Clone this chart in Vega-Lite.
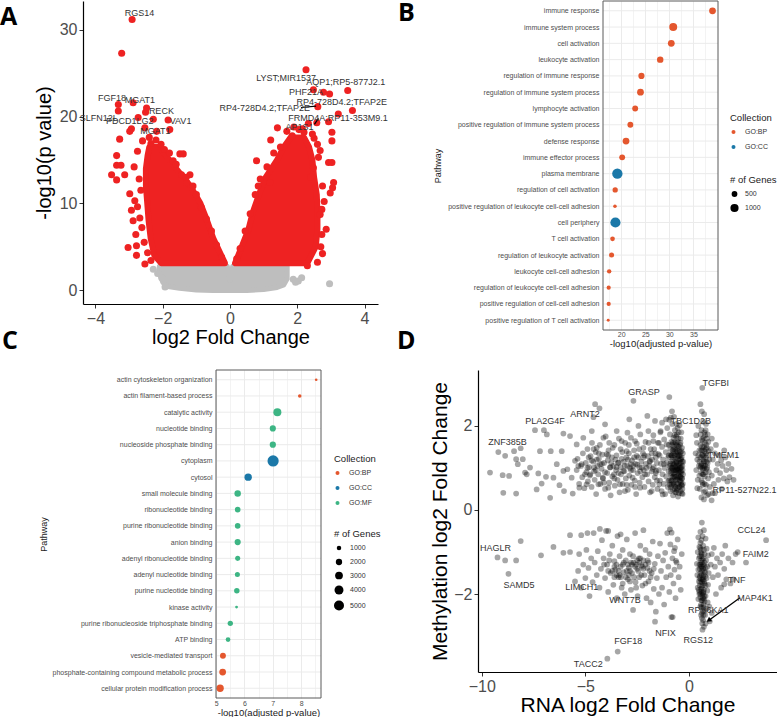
{
"$schema": "https://vega.github.io/schema/vega-lite/v6.json",
"padding": 0,
"autosize": {"type": "pad"},
"background": "white",
"columns": 2,
"spacing": {"row": 40, "column": 100},
"bounds": "flush",
"align": "each",
"resolve": {"scale": {"color": "independent", "size": "independent"}, "legend": {"color": "independent", "size": "independent"}},
"config": {"font": "Liberation Sans", "view": {"stroke": null}, "axis": {"labelFont": "Liberation Sans", "titleFont": "Liberation Sans", "labelFlush": false}, "legend": {"labelFont": "Liberation Sans", "titleFont": "Liberation Sans"}},
"concat": [
{
"width": 295, "height": 303,
"title": {"text": "A", "anchor": "start", "frame": "group", "dx": -83, "dy": 29, "offset": 0, "fontSize": 25, "font": "Open Sans", "fontWeight": "bold", "color": "black"},
"encoding": {
 "x": {"field": "x", "type": "quantitative", "scale": {"domain": [-4.37, 4.4], "nice": false, "zero": false}, "axis": {"values": [-4,-2,0,2,4], "grid": false, "title": "log2 Fold Change", "titleFontSize": 20, "titleFontWeight": "normal", "titleColor": "black", "titlePadding": 1, "labelFontSize": 16, "labelColor": "#4D4D4D", "labelPadding": 2, "tickSize": 4, "tickColor": "#333333", "domainColor": "black", "domainWidth": 1.2}},
 "y": {"field": "y", "type": "quantitative", "scale": {"domain": [-1.61, 33.33], "nice": false, "zero": false}, "axis": {"values": [0,10,20,30], "grid": false, "title": "-log10(p value)", "titleFontSize": 20, "titleFontWeight": "normal", "titleColor": "black", "titlePadding": 5, "labelFontSize": 16, "labelColor": "#4D4D4D", "labelPadding": 2, "tickSize": 4, "tickColor": "#333333", "domainColor": "black", "domainWidth": 1.2}}
},
"layer": [
 {"data": {"values": [{"x":-2.1,"y":2.0,"y2":2.75},{"x":-2.0,"y":0.9,"y2":2.75},{"x":-1.85,"y":0.4,"y2":2.75},{"x":-1.5,"y":0.2,"y2":2.75},{"x":-1.0,"y":0.0,"y2":2.75},{"x":-0.5,"y":-0.05,"y2":2.75},{"x":-0.08,"y":-0.05,"y2":2.75},{"x":0,"y":-0.05,"y2":1.1},{"x":0.08,"y":-0.05,"y2":2.75},{"x":0.5,"y":-0.05,"y2":2.75},{"x":1.0,"y":0.05,"y2":2.75},{"x":1.4,"y":0.3,"y2":2.75},{"x":1.6,"y":0.6,"y2":2.75},{"x":1.7,"y":1.3,"y2":2.75}]},
  "mark": {"type": "area", "color": "#BEBEBE", "stroke": "#BEBEBE", "strokeWidth": 5, "strokeJoin": "round"},
  "encoding": {"y2": {"field": "y2"}}},
 {"data": {"values": [{"x":2.96,"y":0.73},{"x":1.88,"y":1.23},{"x":2.03,"y":1.04},{"x":2.13,"y":1.42},{"x":-2.28,"y":2.4},{"x":-2.03,"y":1.42},{"x":-1.93,"y":0.35},{"x":1.95,"y":0.9},{"x":-2.15,"y":1.9}]},
  "mark": {"type": "circle", "color": "#BEBEBE", "opacity": 1, "size": 50}},
 {"data": {"values": [
  {"side":"L","y":3.1,"x":-2.05,"x2":-0.15},{"side":"L","y":4,"x":-2.25,"x2":-0.26},{"side":"L","y":6,"x":-2.36,"x2":-0.5},{"side":"L","y":8,"x":-2.42,"x2":-0.68},{"side":"L","y":10,"x":-2.46,"x2":-0.88},{"side":"L","y":12,"x":-2.5,"x2":-1.18},{"side":"L","y":14,"x":-2.5,"x2":-1.6},{"side":"L","y":15.5,"x":-2.45,"x2":-1.9},{"side":"L","y":16.5,"x":-2.4,"x2":-2.12},
  {"side":"R","y":3.1,"x":0.15,"x2":2.3},{"side":"R","y":5,"x":0.35,"x2":2.55},{"side":"R","y":7,"x":0.55,"x2":2.6},{"side":"R","y":9,"x":0.68,"x2":2.6},{"side":"R","y":11,"x":0.86,"x2":2.58},{"side":"R","y":13,"x":1.06,"x2":2.5},{"side":"R","y":15,"x":1.4,"x2":2.45},{"side":"R","y":16.5,"x":1.6,"x2":2.35},{"side":"R","y":17.6,"x":1.8,"x2":2.2}]},
  "mark": {"type": "area", "orient": "horizontal", "color": "#EE2222", "stroke": "#EE2222", "strokeWidth": 6, "strokeJoin": "round"},
  "encoding": {"x2": {"field": "x2"}, "detail": {"field": "side"}}},
 {"data": {"values": [
  {"x":-2.91,"y":31.2},{"x":-3.22,"y":27.3},{"x":-3.32,"y":21.4},{"x":-3.32,"y":20.65},{"x":-2.88,"y":21.6},{"x":-2.48,"y":21.0},{"x":-2.51,"y":20.5},{"x":-2.73,"y":19.9},{"x":-2.28,"y":19.7},{"x":-1.84,"y":19.6},{"x":-2.93,"y":18.6},{"x":-2.98,"y":18.3},{"x":-2.53,"y":18.7},{"x":-2.18,"y":18.3},{"x":-1.79,"y":18.5},{"x":-3.28,"y":17.4},{"x":-3.37,"y":15.5},{"x":-3.37,"y":14.4},{"x":-3.24,"y":14.4},{"x":-3.52,"y":13.3},{"x":-3.37,"y":12.7},{"x":-3.13,"y":13.3},{"x":-2.98,"y":11.1},{"x":-2.93,"y":9.2},{"x":-3.03,"y":4.9},{"x":-2.78,"y":5.1},{"x":-2.78,"y":4.0},{"x":-2.53,"y":3.0},{"x":-2.88,"y":8.0},{"x":-2.8,"y":6.4},{"x":-2.68,"y":8.3},{"x":-2.83,"y":10.3},{"x":-1.49,"y":15.7},{"x":-1.39,"y":15.7},{"x":-1.69,"y":14.9},{"x":-1.44,"y":13.3},{"x":-1.29,"y":12.4},{"x":-1.19,"y":13.3},
  {"x":-2.6,"y":17.2},{"x":-2.4,"y":17.6},{"x":-2.2,"y":17.3},{"x":-2.35,"y":16.9},{"x":-2.05,"y":16.8},{"x":-1.95,"y":16.2},{"x":-1.8,"y":15.8},{"x":-2.75,"y":16.0},{"x":-2.85,"y":14.2},{"x":-2.7,"y":12.8},{"x":-2.65,"y":11.5},{"x":-2.75,"y":9.6},{"x":-2.62,"y":7.2},{"x":-2.55,"y":5.5},{"x":-2.45,"y":4.3},{"x":-2.35,"y":3.4},{"x":-1.1,"y":12.0},{"x":-1.0,"y":11.0},{"x":-0.85,"y":9.5},{"x":-0.7,"y":8.2},{"x":-0.55,"y":6.8},{"x":-0.4,"y":5.2},{"x":-0.25,"y":3.8},{"x":-1.6,"y":14.5},{"x":-1.3,"y":13.0},
  {"x":2.26,"y":25.4},{"x":2.48,"y":23.1},{"x":2.78,"y":22.8},{"x":2.96,"y":22.6},{"x":3.5,"y":23.0},{"x":2.61,"y":21.15},{"x":3.64,"y":20.7},{"x":3.22,"y":20.3},{"x":2.93,"y":19.4},{"x":2.33,"y":19.2},{"x":2.58,"y":19.3},{"x":1.41,"y":18.7},{"x":1.69,"y":18.3},{"x":3.03,"y":18.2},{"x":3.03,"y":17.2},{"x":2.93,"y":14.7},{"x":3.03,"y":14.7},{"x":3.08,"y":12.4},{"x":2.98,"y":11.2},{"x":3.05,"y":11.8},{"x":2.73,"y":9.3},{"x":2.68,"y":8.7},{"x":2.86,"y":7.0},{"x":2.73,"y":6.4},{"x":2.7,"y":5.0},{"x":2.3,"y":2.8},{"x":1.21,"y":17.3},{"x":0.79,"y":14.9},{"x":1.19,"y":12.4},{"x":0.84,"y":12.0},{"x":2.48,"y":14.1},{"x":2.63,"y":15.3},{"x":2.68,"y":16.1},{"x":2.4,"y":13.0},
  {"x":1.9,"y":18.8},{"x":2.05,"y":18.5},{"x":2.2,"y":18.2},{"x":1.85,"y":17.8},{"x":2.5,"y":17.5},{"x":2.6,"y":16.8},{"x":1.5,"y":16.5},{"x":1.3,"y":15.8},{"x":1.1,"y":14.2},{"x":0.9,"y":12.8},{"x":0.75,"y":11.0},{"x":0.6,"y":8.8},{"x":0.45,"y":6.8},{"x":0.3,"y":4.8},{"x":0.2,"y":3.6},{"x":2.75,"y":12.0},{"x":2.8,"y":10.2},{"x":2.75,"y":4.2},{"x":2.6,"y":3.2},{"x":2.45,"y":18.0},{"x":2.15,"y":18.6}]},
  "mark": {"type": "circle", "color": "#EE2222", "opacity": 1, "size": 50}},
 {"data": {"values": [{"x":2.11,"y":21.05,"x2":2.56,"y2":21.2},{"x":2.51,"y":19.11,"x2":2.63,"y2":19.8}]},
  "mark": {"type": "rule", "color": "black", "strokeWidth": 1.2},
  "encoding": {"x2": {"field": "x2"}, "y2": {"field": "y2"}}},
 {"data": {"values": [
  {"x":-2.69,"y":31.95,"label":"RGS14"},{"x":-3.51,"y":22.18,"label":"FGF18"},{"x":-2.68,"y":21.9,"label":"MGAT1"},{"x":-2.04,"y":20.65,"label":"RECK"},{"x":-3.9,"y":19.84,"label":"SLFN12L"},{"x":-2.98,"y":19.5,"label":"PDCD1LG2"},{"x":-1.47,"y":19.5,"label":"VAV1"},{"x":-2.22,"y":18.34,"label":"MGAT1"},
  {"x":1.67,"y":24.49,"label":"LYST;MIR1537"},{"x":3.44,"y":24.03,"label":"AQP1;RP5-877J2.1"},{"x":2.26,"y":22.87,"label":"PHF21A"},{"x":3.32,"y":21.72,"label":"RP4-728D4.2;TFAP2E"},{"x":1.03,"y":21.03,"label":"RP4-728D4.2;TFAP2E"},{"x":3.21,"y":19.87,"label":"FRMD4A;RP11-353M9.1"},{"x":2.07,"y":18.8,"label":"AP1S1"}]},
  "mark": {"type": "text", "fontSize": 9, "color": "#333333", "align": "center", "baseline": "middle"},
  "encoding": {"text": {"field": "label"}}}
]
},
{
"width": 240, "height": 329,
"title": {"text": "B", "anchor": "start", "frame": "group", "dx": -80, "dy": 25, "offset": 0, "fontSize": 25, "font": "Open Sans", "fontWeight": "bold", "color": "black"},
"data": {"values": [
 {"pathway":"immune response","collection":"GO:BP","p":38.96,"genes":690},
 {"pathway":"immune system process","collection":"GO:BP","p":30.8,"genes":950},
 {"pathway":"cell activation","collection":"GO:BP","p":30.4,"genes":690},
 {"pathway":"leukocyte activation","collection":"GO:BP","p":28.1,"genes":620},
 {"pathway":"regulation of immune response","collection":"GO:BP","p":24.2,"genes":570},
 {"pathway":"regulation of immune system process","collection":"GO:BP","p":24.0,"genes":690},
 {"pathway":"lymphocyte activation","collection":"GO:BP","p":22.9,"genes":520},
 {"pathway":"positive regulation of immune system process","collection":"GO:BP","p":21.9,"genes":520},
 {"pathway":"defense response","collection":"GO:BP","p":21.0,"genes":690},
 {"pathway":"immune effector process","collection":"GO:BP","p":20.2,"genes":520},
 {"pathway":"plasma membrane","collection":"GO:CC","p":19.2,"genes":1600},
 {"pathway":"regulation of cell activation","collection":"GO:BP","p":18.75,"genes":420},
 {"pathway":"positive regulation of leukocyte cell-cell adhesion","collection":"GO:BP","p":18.7,"genes":190},
 {"pathway":"cell periphery","collection":"GO:CC","p":18.8,"genes":1550},
 {"pathway":"T cell activation","collection":"GO:BP","p":18.2,"genes":330},
 {"pathway":"regulation of leukocyte activation","collection":"GO:BP","p":18.0,"genes":380},
 {"pathway":"leukocyte cell-cell adhesion","collection":"GO:BP","p":17.5,"genes":290},
 {"pathway":"regulation of leukocyte cell-cell adhesion","collection":"GO:BP","p":17.4,"genes":260},
 {"pathway":"positive regulation of cell-cell adhesion","collection":"GO:BP","p":17.4,"genes":260},
 {"pathway":"positive regulation of T cell activation","collection":"GO:BP","p":17.3,"genes":130}]},
"layer": [
 {"mark": {"type": "rule", "color": "#EBEBEB", "strokeWidth": 1},
  "encoding": {
   "y": {"field": "pathway", "type": "nominal", "sort": null, "scale": {"type": "point", "padding": 0.6}, "axis": {"offset": -125, "title": "Pathway", "titleFontSize": 9, "titleFontWeight": "normal", "titleColor": "#1a1a1a", "titlePadding": 5, "labelFontSize": 7, "labelColor": "#4D4D4D", "labelPadding": 4, "labelLimit": 0, "ticks": false, "domain": false, "grid": false}},
   "x": {"datum": 16.22, "type": "quantitative", "scale": {"domain": [-9.74, 40.1], "nice": false, "zero": false}, "axis": {"values": [17.5,20,22.5,25,27.5,30,32.5,35,37.5], "labelExpr": "datum.value % 5 === 0 ? datum.label : ''", "title": "-log10(adjusted p-value)", "titleX": 182.5, "titleFontSize": 9.5, "titleFontWeight": "normal", "titleColor": "#1a1a1a", "titlePadding": 1, "labelFontSize": 7, "labelColor": "#4D4D4D", "labelPadding": 0, "ticks": false, "domain": false, "grid": true, "gridColor": "#EBEBEB", "gridWidth": {"condition": {"test": "datum.value % 5 === 0", "value": 1}, "value": 0.6}}},
   "x2": {"datum": 40.1}}},
 {"mark": {"type": "circle", "opacity": 1},
  "encoding": {
   "y": {"field": "pathway", "type": "nominal", "sort": null, "scale": {"type": "point", "padding": 0.6}, "axis": {"offset": -125, "title": "Pathway", "titleFontSize": 9, "titleFontWeight": "normal", "titleColor": "#1a1a1a", "titlePadding": 5, "labelFontSize": 7, "labelColor": "#4D4D4D", "labelPadding": 4, "labelLimit": 0, "ticks": false, "domain": false, "grid": false}},
   "x": {"field": "p", "type": "quantitative", "scale": {"domain": [-9.74, 40.1], "nice": false, "zero": false}, "axis": {"values": [17.5,20,22.5,25,27.5,30,32.5,35,37.5], "labelExpr": "datum.value % 5 === 0 ? datum.label : ''", "title": "-log10(adjusted p-value)", "titleX": 182.5, "titleFontSize": 9.5, "titleFontWeight": "normal", "titleColor": "#1a1a1a", "titlePadding": 1, "labelFontSize": 7, "labelColor": "#4D4D4D", "labelPadding": 0, "ticks": false, "domain": false, "grid": true, "gridColor": "#EBEBEB", "gridWidth": {"condition": {"test": "datum.value % 5 === 0", "value": 1}, "value": 0.6}}},
   "color": {"field": "collection", "type": "nominal", "scale": {"domain": ["GO:BP", "GO:CC"], "range": ["#E4572E", "#1B78A8"]}, "legend": {"title": "Collection", "orient": "none", "legendX": 252, "legendY": 112, "titleFontSize": 9.5, "titleFontWeight": "normal", "titleColor": "#1a1a1a", "titlePadding": 6, "labelFontSize": 7, "labelColor": "#333333", "symbolSize": 16, "symbolType": "circle", "rowPadding": 7, "labelOffset": 8}},
   "size": {"field": "genes", "type": "quantitative", "scale": {"domain": [0, 1600], "range": [0, 107]}, "legend": {"title": "# of Genes", "orient": "none", "legendX": 252, "legendY": 174, "values": [500, 1000], "format": "d", "titleFontSize": 9.5, "titleFontWeight": "normal", "titleColor": "#1a1a1a", "titlePadding": 6, "labelFontSize": 7, "labelColor": "#333333", "symbolFillColor": "black", "symbolStrokeWidth": 0, "symbolType": "circle", "symbolOpacity": 1, "rowPadding": 6, "labelOffset": 6}}}},
 {"data": {"values": [{}]},
  "mark": {"type": "rect", "filled": false, "stroke": "#5a5a5a", "strokeWidth": 1},
  "encoding": {
   "x": {"datum": 16.22, "type": "quantitative", "scale": {"domain": [-9.74, 40.1], "nice": false, "zero": false}, "axis": {"values": [17.5,20,22.5,25,27.5,30,32.5,35,37.5], "labelExpr": "datum.value % 5 === 0 ? datum.label : ''", "title": "-log10(adjusted p-value)", "titleX": 182.5, "titleFontSize": 9.5, "titleFontWeight": "normal", "titleColor": "#1a1a1a", "titlePadding": 1, "labelFontSize": 7, "labelColor": "#4D4D4D", "labelPadding": 0, "ticks": false, "domain": false, "grid": true, "gridColor": "#EBEBEB", "gridWidth": {"condition": {"test": "datum.value % 5 === 0", "value": 1}, "value": 0.6}}},
   "x2": {"datum": 40.1}}}
]
},
{
"width": 238, "height": 328,
"title": {"text": "C", "anchor": "start", "frame": "group", "dx": -81, "dy": -16, "offset": 0, "fontSize": 25, "font": "Open Sans", "fontWeight": "bold", "color": "black"},
"data": {"values": [
 {"pathway":"actin cytoskeleton organization","collection":"GO:BP","p":8.53,"genes":350},
 {"pathway":"actin filament-based process","collection":"GO:BP","p":7.95,"genes":630},
 {"pathway":"catalytic activity","collection":"GO:MF","p":7.16,"genes":3200},
 {"pathway":"nucleotide binding","collection":"GO:MF","p":7.0,"genes":1900},
 {"pathway":"nucleoside phosphate binding","collection":"GO:MF","p":7.0,"genes":1950},
 {"pathway":"cytoplasm","collection":"GO:CC","p":7.01,"genes":6300},
 {"pathway":"cytosol","collection":"GO:CC","p":6.13,"genes":2700},
 {"pathway":"small molecule binding","collection":"GO:MF","p":5.76,"genes":2100},
 {"pathway":"ribonucleotide binding","collection":"GO:MF","p":5.76,"genes":1560},
 {"pathway":"purine ribonucleotide binding","collection":"GO:MF","p":5.76,"genes":1550},
 {"pathway":"anion binding","collection":"GO:MF","p":5.76,"genes":1900},
 {"pathway":"adenyl ribonucleotide binding","collection":"GO:MF","p":5.76,"genes":1270},
 {"pathway":"adenyl nucleotide binding","collection":"GO:MF","p":5.75,"genes":1280},
 {"pathway":"purine nucleotide binding","collection":"GO:MF","p":5.73,"genes":1500},
 {"pathway":"kinase activity","collection":"GO:MF","p":5.72,"genes":400},
 {"pathway":"purine ribonucleoside triphosphate binding","collection":"GO:MF","p":5.5,"genes":1400},
 {"pathway":"ATP binding","collection":"GO:MF","p":5.42,"genes":1100},
 {"pathway":"vesicle-mediated transport","collection":"GO:BP","p":5.24,"genes":1750},
 {"pathway":"phosphate-containing compound metabolic process","collection":"GO:BP","p":5.23,"genes":2300},
 {"pathway":"cellular protein modification process","collection":"GO:BP","p":5.14,"genes":2700}]},
"layer": [
 {"mark": {"type": "rule", "color": "#EBEBEB", "strokeWidth": 1},
  "encoding": {
   "y": {"field": "pathway", "type": "nominal", "sort": null, "scale": {"type": "point", "padding": 0.6}, "axis": {"offset": -133, "title": "Pathway", "titleFontSize": 9, "titleFontWeight": "normal", "titleColor": "#1a1a1a", "titlePadding": 4, "labelFontSize": 7, "labelColor": "#4D4D4D", "labelPadding": 4, "labelLimit": 0, "ticks": false, "domain": false, "grid": false}},
   "x": {"datum": 4.995, "type": "quantitative", "scale": {"domain": [0.302, 8.7], "nice": false, "zero": false}, "axis": {"values": [5,5.5,6,6.5,7,7.5,8,8.5], "labelExpr": "datum.value % 1 === 0 ? datum.label : ''", "title": "-log10(adjusted p-value)", "titleX": 185.5, "titleFontSize": 9.5, "titleFontWeight": "normal", "titleColor": "#1a1a1a", "titlePadding": 1, "labelFontSize": 7, "labelColor": "#4D4D4D", "labelPadding": 1, "ticks": false, "domain": false, "grid": true, "gridColor": "#EBEBEB", "gridWidth": {"condition": {"test": "datum.value % 1 === 0", "value": 1}, "value": 0.6}}},
   "x2": {"datum": 8.7}}},
 {"mark": {"type": "circle", "opacity": 1},
  "encoding": {
   "y": {"field": "pathway", "type": "nominal", "sort": null, "scale": {"type": "point", "padding": 0.6}, "axis": {"offset": -133, "title": "Pathway", "titleFontSize": 9, "titleFontWeight": "normal", "titleColor": "#1a1a1a", "titlePadding": 4, "labelFontSize": 7, "labelColor": "#4D4D4D", "labelPadding": 4, "labelLimit": 0, "ticks": false, "domain": false, "grid": false}},
   "x": {"field": "p", "type": "quantitative", "scale": {"domain": [0.302, 8.7], "nice": false, "zero": false}, "axis": {"values": [5,5.5,6,6.5,7,7.5,8,8.5], "labelExpr": "datum.value % 1 === 0 ? datum.label : ''", "title": "-log10(adjusted p-value)", "titleX": 185.5, "titleFontSize": 9.5, "titleFontWeight": "normal", "titleColor": "#1a1a1a", "titlePadding": 1, "labelFontSize": 7, "labelColor": "#4D4D4D", "labelPadding": 1, "ticks": false, "domain": false, "grid": true, "gridColor": "#EBEBEB", "gridWidth": {"condition": {"test": "datum.value % 1 === 0", "value": 1}, "value": 0.6}}},
   "color": {"field": "collection", "type": "nominal", "scale": {"domain": ["GO:BP", "GO:CC", "GO:MF"], "range": ["#E4572E", "#1B78A8", "#3DB584"]}, "legend": {"title": "Collection", "orient": "none", "legendX": 251, "legendY": 84, "titleFontSize": 9.5, "titleFontWeight": "normal", "titleColor": "#1a1a1a", "titlePadding": 6, "labelFontSize": 7, "labelColor": "#333333", "symbolSize": 16, "symbolType": "circle", "rowPadding": 7, "labelOffset": 8}},
   "size": {"field": "genes", "type": "quantitative", "scale": {"domain": [0, 5000], "range": [0, 100]}, "legend": {"title": "# of Genes", "orient": "none", "legendX": 251, "legendY": 159, "values": [1000, 2000, 3000, 4000, 5000], "format": "d", "titleFontSize": 9.5, "titleFontWeight": "normal", "titleColor": "#1a1a1a", "titlePadding": 6, "labelFontSize": 7, "labelColor": "#333333", "symbolFillColor": "black", "symbolStrokeWidth": 0, "symbolType": "circle", "symbolOpacity": 1, "rowPadding": 6, "labelOffset": 6}}}},
 {"data": {"values": [{}]},
  "mark": {"type": "rect", "filled": false, "stroke": "#5a5a5a", "strokeWidth": 1},
  "encoding": {
   "x": {"datum": 4.995, "type": "quantitative", "scale": {"domain": [0.302, 8.7], "nice": false, "zero": false}, "axis": {"values": [5,5.5,6,6.5,7,7.5,8,8.5], "labelExpr": "datum.value % 1 === 0 ? datum.label : ''", "title": "-log10(adjusted p-value)", "titleX": 185.5, "titleFontSize": 9.5, "titleFontWeight": "normal", "titleColor": "#1a1a1a", "titlePadding": 1, "labelFontSize": 7, "labelColor": "#4D4D4D", "labelPadding": 1, "ticks": false, "domain": false, "grid": true, "gridColor": "#EBEBEB", "gridWidth": {"condition": {"test": "datum.value % 1 === 0", "value": 1}, "value": 0.6}}},
   "x2": {"datum": 8.7}}}
]
},
{
"width": 299, "height": 302,
"title": {"text": "D", "anchor": "start", "frame": "group", "dx": -81, "dy": -16, "offset": 0, "fontSize": 25, "font": "Open Sans", "fontWeight": "bold", "color": "black"},
"encoding": {
 "x": {"field": "x", "type": "quantitative", "scale": {"domain": [-10.18, 4.245], "nice": false, "zero": false}, "axis": {"values": [-10,-5,0], "grid": false, "title": "RNA log2 Fold Change", "titleFontSize": 21, "titleFontWeight": "normal", "titleColor": "black", "titlePadding": 0, "labelFontSize": 16, "labelColor": "#4D4D4D", "labelPadding": 2, "tickSize": 4, "tickColor": "#333333", "domainColor": "black", "domainWidth": 1.2}},
 "y": {"field": "y", "type": "quantitative", "scale": {"domain": [-3.857, 3.333], "nice": false, "zero": false}, "axis": {"values": [-2,0,2], "grid": false, "title": "Methylation log2 Fold Change", "titleFontSize": 21, "titleFontWeight": "normal", "titleColor": "black", "titlePadding": 3, "labelFontSize": 16, "labelColor": "#4D4D4D", "labelPadding": 2, "tickSize": 4, "tickColor": "#333333", "domainColor": "black", "domainWidth": 1.2}}
},
"layer": [
 {"mark": {"type": "rule", "color": "#B0B0B0", "strokeDash": [6, 4], "strokeWidth": 1.2}, "encoding": {"x": {"datum": 0}, "y": null}},
 {"mark": {"type": "rule", "color": "#B0B0B0", "strokeDash": [6, 4], "strokeWidth": 1.2}, "encoding": {"y": {"datum": 0}, "x": null}},
 {"data": {"values": [
{"x":-9.6,"y":0.89},{"x":-9.2,"y":1.38},{"x":-8.87,"y":1.29},{"x":-8.96,"y":0.41},{"x":-8.99,"y":0.83},{"x":-8.68,"y":0.81},{"x":-8.44,"y":1.4},{"x":-8.12,"y":1.47},{"x":-8.34,"y":0.39},{"x":-8.34,"y":1.21},{"x":-8.26,"y":1.09},{"x":-8.02,"y":1.21},{"x":-7.91,"y":0.89},{"x":-7.67,"y":1.01},{"x":-7.83,"y":0.85},{"x":-7.43,"y":1.9},{"x":-7.27,"y":0.87},{"x":-7.19,"y":1.4},{"x":-7.35,"y":0.49},{"x":-7.11,"y":0.63},{"x":-7.0,"y":1.9},{"x":-6.86,"y":1.8},{"x":-6.9,"y":0.79},{"x":-6.7,"y":0.29},{"x":-6.67,"y":1.4},{"x":-6.54,"y":0.77},{"x":-6.38,"y":1.09},{"x":-6.25,"y":0.59},{"x":-6.06,"y":1.82},{"x":-6.14,"y":1.4},{"x":-6.06,"y":0.93},{"x":-6.03,"y":0.45},{"x":-5.87,"y":0.97},{"x":-5.74,"y":1.76},{"x":-5.66,"y":0.77},{"x":-5.61,"y":0.39},{"x":-5.5,"y":1.17},{"x":-5.42,"y":1.56},{"x":-5.34,"y":1.05},{"x":-5.29,"y":0.53},{"x":-5.18,"y":1.09},{"x":-5.1,"y":1.72},{"x":-5.02,"y":0.85},{"x":-4.94,"y":0.61},{"x":-4.84,"y":1.25},{"x":-4.77,"y":0.85},{"x":-4.69,"y":1.88},{"x":-4.61,"y":2.21},{"x":-4.53,"y":2.52},{"x":-4.32,"y":2.42},{"x":-4.58,"y":1.01},{"x":-4.45,"y":1.48},{"x":-4.37,"y":0.61},{"x":-4.29,"y":1.09},{"x":-4.16,"y":0.77},{"x":-4.13,"y":1.72},{"x":-4.05,"y":2.04},{"x":-3.97,"y":1.33},{"x":-3.89,"y":0.53},{"x":-3.81,"y":1.01},{"x":-3.68,"y":1.48},{"x":-3.62,"y":0.85},{"x":-3.49,"y":1.88},{"x":-3.41,"y":1.13},{"x":-3.33,"y":0.61},{"x":-3.25,"y":1.64},{"x":-3.17,"y":0.93},{"x":-3.09,"y":0.45},{"x":-3.01,"y":1.4},{"x":-2.97,"y":1.84},{"x":-2.88,"y":2.16},{"x":-2.81,"y":1.09},{"x":-2.72,"y":0.77},{"x":-2.68,"y":2.6},{"x":-2.6,"y":1.64},{"x":-2.52,"y":1.29},{"x":-2.44,"y":2.0},{"x":-2.36,"y":0.53},{"x":-2.28,"y":1.01},{"x":-2.2,"y":1.48},{"x":-2.12,"y":0.85},{"x":-2.01,"y":2.24},{"x":-1.96,"y":1.88},{"x":-1.88,"y":1.17},{"x":-1.8,"y":0.45},{"x":-1.72,"y":1.64},{"x":-1.64,"y":2.12},{"x":-1.59,"y":0.93},{"x":-1.48,"y":1.33},{"x":-1.43,"y":0.61},{"x":-1.37,"y":1.88},{"x":-1.27,"y":0.37},{"x":-1.21,"y":1.09},{"x":-1.11,"y":2.16},{"x":-1.08,"y":1.56},{"x":-0.95,"y":2.69},{"x":-1.0,"y":0.69},
{"x":-5.42,"y":0.95},{"x":-5.38,"y":1.22},{"x":-5.3,"y":0.62},{"x":-5.21,"y":1.05},{"x":-5.15,"y":0.78},{"x":-5.12,"y":1.35},{"x":-5.05,"y":0.52},{"x":-4.98,"y":1.12},{"x":-4.95,"y":0.9},{"x":-4.9,"y":1.45},{"x":-4.88,"y":0.68},{"x":-4.82,"y":1.02},{"x":-4.78,"y":0.82},{"x":-4.75,"y":1.28},{"x":-4.7,"y":0.55},{"x":-4.68,"y":1.6},{"x":-4.62,"y":1.15},{"x":-4.58,"y":0.92},{"x":-4.55,"y":0.72},{"x":-4.5,"y":1.38},{"x":-4.48,"y":0.38},{"x":-4.42,"y":1.05},{"x":-4.38,"y":0.85},{"x":-4.35,"y":1.22},{"x":-4.3,"y":1.55},{"x":-4.28,"y":0.62},{"x":-4.22,"y":0.98},{"x":-4.18,"y":1.32},{"x":-4.15,"y":0.75},{"x":-4.1,"y":1.12},{"x":-4.05,"y":0.5},{"x":-4.02,"y":1.75},{"x":-3.95,"y":0.88},{"x":-3.92,"y":1.18},{"x":-3.88,"y":1.42},{"x":-3.85,"y":0.65},{"x":-3.8,"y":1.02},{"x":-3.78,"y":0.35},{"x":-3.72,"y":1.25},{"x":-3.7,"y":0.8},{"x":-3.65,"y":1.05},{"x":-3.6,"y":1.55},{"x":-3.58,"y":0.58},{"x":-3.52,"y":0.95},{"x":-3.5,"y":1.3},{"x":-3.45,"y":0.72},{"x":-3.42,"y":1.12},{"x":-3.38,"y":1.7},{"x":-3.35,"y":0.42},{"x":-3.3,"y":1.02},{"x":-3.28,"y":0.85},{"x":-3.22,"y":1.38},{"x":-3.2,"y":0.62},{"x":-3.15,"y":1.15},{"x":-3.12,"y":0.92},{"x":-3.08,"y":1.6},{"x":-3.05,"y":0.75},{"x":-3.02,"y":1.25},{"x":-2.98,"y":1.05},{"x":-2.95,"y":0.48},{"x":-2.9,"y":1.35},{"x":-2.88,"y":0.82},{"x":-2.85,"y":1.0},{"x":-2.8,"y":1.72},{"x":-2.78,"y":0.6},{"x":-2.75,"y":1.18},{"x":-2.7,"y":0.95},{"x":-2.65,"y":1.42},{"x":-2.62,"y":0.7},{"x":-2.58,"y":1.1},{"x":-2.55,"y":0.38},{"x":-2.52,"y":1.58},{"x":-2.48,"y":0.88},{"x":-2.45,"y":1.25},{"x":-2.4,"y":1.02},{"x":-2.38,"y":0.65},{"x":-2.35,"y":1.8},{"x":-2.3,"y":1.15},{"x":-2.25,"y":0.78},{"x":-2.22,"y":1.35},{"x":-2.18,"y":0.95},{"x":-2.15,"y":0.55},{"x":-2.1,"y":1.62},{"x":-2.08,"y":1.1},{"x":-2.02,"y":0.85},{"x":-1.98,"y":1.28},{"x":-1.95,"y":0.68},{"x":-1.92,"y":1.05},{"x":-1.88,"y":0.42},{"x":-1.85,"y":1.45},{"x":-1.8,"y":0.92},{"x":-1.78,"y":1.2},{"x":-1.75,"y":0.6},{"x":-1.72,"y":1.78},{"x":-1.7,"y":1.02},{"x":-1.65,"y":0.78},{"x":-1.62,"y":1.35},{"x":-1.6,"y":0.88},{"x":-1.55,"y":1.12},{"x":-1.52,"y":0.5},{"x":-1.5,"y":1.6},
{"x":-4.9,"y":1.0},{"x":-4.7,"y":1.18},{"x":-4.5,"y":0.95},{"x":-4.35,"y":1.35},{"x":-4.2,"y":1.1},{"x":-4.05,"y":0.9},{"x":-3.9,"y":1.3},{"x":-3.75,"y":1.12},{"x":-3.55,"y":1.2},{"x":-3.4,"y":0.88},{"x":-3.25,"y":1.22},{"x":-3.1,"y":1.05},{"x":-2.95,"y":1.2},{"x":-2.8,"y":0.95},{"x":-2.65,"y":1.25},{"x":-2.5,"y":1.08},{"x":-2.35,"y":0.92},{"x":-2.2,"y":1.25},{"x":-2.05,"y":1.0},{"x":-1.9,"y":1.15},{"x":-1.75,"y":0.98},{"x":-1.6,"y":1.25},{"x":-1.55,"y":0.7},{"x":-1.68,"y":1.45},{"x":-2.6,"y":0.55},{"x":-3.0,"y":0.6},{"x":-3.6,"y":0.75},{"x":-4.1,"y":0.65},{"x":-4.6,"y":1.45},{"x":-2.4,"y":1.45},{"x":-2.9,"y":1.55},{"x":-3.3,"y":1.45},{"x":-1.95,"y":1.6},{"x":-1.45,"y":1.6},{"x":-3.85,"y":1.6},{"x":-2.15,"y":1.3},{"x":-2.7,"y":1.05},{"x":-3.5,"y":1.02},{"x":-4.45,"y":1.2},{"x":-1.8,"y":1.35},
{"x":-1.45,"y":0.95},{"x":-1.42,"y":1.3},{"x":-1.4,"y":0.7},{"x":-1.38,"y":1.85},{"x":-1.35,"y":1.1},{"x":-1.32,"y":0.45},{"x":-1.3,"y":1.5},{"x":-1.28,"y":0.85},{"x":-1.25,"y":1.2},{"x":-1.22,"y":0.62},{"x":-1.2,"y":1.68},{"x":-1.18,"y":1.0},{"x":-1.15,"y":0.38},{"x":-1.12,"y":1.38},{"x":-1.1,"y":0.8},{"x":-1.08,"y":1.12},{"x":-1.05,"y":1.95},{"x":-1.02,"y":0.55},{"x":-1.0,"y":1.25},{"x":-0.98,"y":0.92},{"x":-0.97,"y":1.55},{"x":-0.95,"y":0.7},{"x":-0.93,"y":1.05},{"x":-0.92,"y":1.8},{"x":-0.9,"y":0.45},{"x":-0.89,"y":1.32},{"x":-0.88,"y":0.88},{"x":-0.86,"y":1.15},{"x":-0.85,"y":1.62},{"x":-0.84,"y":0.6},{"x":-0.82,"y":1.0},{"x":-0.81,"y":2.05},{"x":-0.8,"y":0.78},{"x":-0.79,"y":1.42},{"x":-0.78,"y":1.2},{"x":-0.77,"y":0.35},{"x":-0.76,"y":0.95},{"x":-0.75,"y":1.72},{"x":-0.74,"y":0.65},{"x":-0.73,"y":1.08},{"x":-0.72,"y":1.5},{"x":-0.71,"y":0.85},{"x":-0.7,"y":1.3},{"x":-0.69,"y":0.5},{"x":-0.68,"y":1.9},{"x":-0.67,"y":1.02},{"x":-0.66,"y":0.72},{"x":-0.65,"y":1.22},{"x":-0.64,"y":1.6},{"x":-0.63,"y":0.9},{"x":-0.62,"y":0.42},{"x":-0.61,"y":1.38},{"x":-0.6,"y":1.12},{"x":-0.59,"y":0.62},{"x":-0.58,"y":1.8},{"x":-0.57,"y":0.98},{"x":-0.56,"y":1.28},{"x":-0.55,"y":0.75},{"x":-0.54,"y":1.52},{"x":-0.53,"y":0.32},{"x":-0.52,"y":1.05},{"x":-0.51,"y":1.7},{"x":-0.5,"y":0.88},{"x":-0.49,"y":1.18},{"x":-0.48,"y":0.55},{"x":-0.47,"y":1.42},{"x":-0.46,"y":2.02},{"x":-0.45,"y":0.68},{"x":-0.44,"y":1.0},{"x":-0.43,"y":1.3},{"x":-0.42,"y":0.8},{"x":-0.41,"y":1.6},{"x":-0.4,"y":0.45},{"x":-0.39,"y":1.12},{"x":-0.38,"y":0.92},{"x":-0.37,"y":1.85},{"x":-0.36,"y":0.6},{"x":-0.35,"y":1.25},{"x":-0.34,"y":1.48},{"x":-0.33,"y":0.75},{"x":-0.32,"y":1.05},{"x":-0.31,"y":0.38},{"x":-0.3,"y":1.35},{"x":-0.29,"y":0.85},{"x":-0.28,"y":1.15},
{"x":-0.91,"y":1.1},{"x":-0.87,"y":0.7},{"x":-0.83,"y":1.3},{"x":-0.8,"y":1.0},{"x":-0.77,"y":0.62},{"x":-0.74,"y":1.25},{"x":-0.71,"y":1.1},{"x":-0.68,"y":0.78},{"x":-0.65,"y":0.95},{"x":-0.62,"y":1.15},{"x":-0.6,"y":0.72},{"x":-0.57,"y":1.32},{"x":-0.55,"y":1.0},{"x":-0.52,"y":0.62},{"x":-0.5,"y":1.28},{"x":-0.48,"y":0.92},{"x":-0.45,"y":1.12},{"x":-0.42,"y":0.7},{"x":-0.4,"y":1.0},{"x":-0.38,"y":1.22},{"x":-0.36,"y":0.88},{"x":-0.34,"y":0.58},{"x":-0.88,"y":0.55},{"x":-0.85,"y":0.82},{"x":-0.82,"y":1.55},{"x":-0.78,"y":0.48},{"x":-0.75,"y":0.88},{"x":-0.72,"y":0.6},{"x":-0.7,"y":1.62},{"x":-0.66,"y":0.42},{"x":-0.63,"y":1.45},{"x":-0.6,"y":0.95},{"x":-0.58,"y":0.48},{"x":-0.55,"y":1.62},{"x":-0.52,"y":0.82},{"x":-0.49,"y":0.4},{"x":-0.46,"y":0.78},{"x":-0.43,"y":1.55},{"x":-0.4,"y":0.78},{"x":-0.37,"y":1.02},{"x":-0.35,"y":0.4},{"x":-0.88,"y":2.2},{"x":-0.72,"y":2.22},{"x":-0.6,"y":2.05},{"x":-0.95,"y":2.15},{"x":-1.3,"y":2.08},{"x":-0.82,"y":2.35},{"x":-0.55,"y":1.95},
{"x":-0.98,"y":1.3},{"x":-0.94,"y":0.6},{"x":-0.9,"y":1.45},{"x":-0.86,"y":0.95},{"x":-0.83,"y":0.7},{"x":-0.79,"y":1.1},{"x":-0.76,"y":1.35},{"x":-0.73,"y":0.8},{"x":-0.7,"y":0.95},{"x":-0.67,"y":1.4},{"x":-0.64,"y":1.05},{"x":-0.61,"y":0.8},{"x":-0.58,"y":1.15},{"x":-0.55,"y":1.4},{"x":-0.52,"y":0.95},{"x":-0.49,"y":1.5},{"x":-0.46,"y":1.05},{"x":-0.43,"y":0.9},{"x":-0.41,"y":1.2},{"x":-0.38,"y":0.65},{"x":-0.36,"y":1.4},{"x":-0.33,"y":1.15},{"x":-0.31,"y":0.95},{"x":-0.3,"y":0.62},{"x":-0.45,"y":0.55},{"x":-0.62,"y":1.75},{"x":-0.78,"y":1.6},{"x":-0.4,"y":1.7},{"x":-0.5,"y":1.85},{"x":-0.7,"y":1.78},{"x":-0.85,"y":1.3},{"x":-0.65,"y":0.55},{"x":-0.55,"y":0.52},{"x":-0.35,"y":0.75},{"x":-0.9,"y":1.0},{"x":-0.42,"y":1.38},{"x":-0.6,"y":1.55},{"x":-0.75,"y":1.45},{"x":-0.48,"y":1.3},{"x":-0.32,"y":0.5},
{"x":0.32,"y":1.35},{"x":0.35,"y":0.95},{"x":0.38,"y":1.6},{"x":0.4,"y":1.2},{"x":0.42,"y":0.72},{"x":0.45,"y":2.0},{"x":0.48,"y":1.05},{"x":0.5,"y":1.42},{"x":0.52,"y":0.5},{"x":0.55,"y":1.25},{"x":0.56,"y":1.8},{"x":0.58,"y":0.88},{"x":0.6,"y":1.1},{"x":0.62,"y":2.35},{"x":0.63,"y":1.5},{"x":0.65,"y":0.65},{"x":0.66,"y":1.32},{"x":0.68,"y":0.95},{"x":0.7,"y":1.72},{"x":0.71,"y":1.15},{"x":0.72,"y":0.42},{"x":0.73,"y":2.28},{"x":0.75,"y":1.4},{"x":0.76,"y":0.8},{"x":0.78,"y":1.05},{"x":0.8,"y":1.9},{"x":0.81,"y":1.25},{"x":0.82,"y":0.6},{"x":0.84,"y":1.55},{"x":0.85,"y":0.98},{"x":0.87,"y":1.3},{"x":0.88,"y":0.35},{"x":0.9,"y":1.12},{"x":0.92,"y":0.75},{"x":0.93,"y":1.62},{"x":0.95,"y":1.4},{"x":0.96,"y":0.9},{"x":0.98,"y":1.2},{"x":1.0,"y":0.55},{"x":0.6,"y":0.3},{"x":0.65,"y":1.0},{"x":0.7,"y":1.28},{"x":0.75,"y":0.62},{"x":0.8,"y":1.45},{"x":0.85,"y":1.15},{"x":0.55,"y":1.02},{"x":0.5,"y":0.82},{"x":0.45,"y":1.3},{"x":0.9,"y":1.8},{"x":0.68,"y":2.1},{"x":0.72,"y":0.25},{"x":0.78,"y":0.45},{"x":0.62,"y":1.68},{"x":0.58,"y":1.42},{"x":0.88,"y":1.02},{"x":0.95,"y":0.38},{"x":0.4,"y":0.52},{"x":0.35,"y":1.78},{"x":0.82,"y":2.05},{"x":0.66,"y":0.85},{"x":0.74,"y":1.0},{"x":0.77,"y":1.6},{"x":0.64,"y":2.91},{"x":0.55,"y":2.52},
{"x":0.5,"y":1.15},{"x":0.55,"y":1.55},{"x":0.6,"y":0.7},{"x":0.62,"y":1.3},{"x":0.65,"y":1.65},{"x":0.68,"y":1.2},{"x":0.7,"y":0.85},{"x":0.72,"y":1.5},{"x":0.75,"y":1.15},{"x":0.78,"y":1.78},{"x":0.8,"y":0.9},{"x":0.82,"y":1.35},{"x":0.85,"y":1.7},{"x":0.58,"y":1.05},{"x":0.64,"y":1.42},{"x":0.7,"y":1.05},{"x":0.74,"y":1.85},{"x":0.66,"y":0.6},{"x":0.6,"y":1.9},{"x":0.86,"y":1.48},
{"x":1.05,"y":1.45},{"x":1.1,"y":0.82},{"x":1.15,"y":1.2},{"x":1.2,"y":0.62},{"x":1.25,"y":1.35},{"x":1.3,"y":1.55},{"x":1.32,"y":0.95},{"x":1.38,"y":1.1},{"x":1.42,"y":0.72},{"x":1.45,"y":1.3},{"x":1.5,"y":0.88},{"x":1.55,"y":1.18},{"x":1.58,"y":0.5},{"x":1.62,"y":1.05},{"x":1.68,"y":0.75},{"x":1.75,"y":1.25},{"x":1.8,"y":0.95},{"x":1.85,"y":0.68},{"x":1.9,"y":1.1},{"x":1.95,"y":0.78},{"x":2.05,"y":0.98},{"x":2.15,"y":0.72},{"x":1.7,"y":1.42},{"x":1.25,"y":0.4},{"x":1.1,"y":1.7},{"x":1.09,"y":0.23},{"x":1.14,"y":0.4},
{"x":-9.24,"y":-1.13},{"x":-8.87,"y":-1.2},{"x":-8.34,"y":-1.2},{"x":-8.12,"y":-0.74},{"x":-8.71,"y":-1.52},{"x":-7.14,"y":-1.08},{"x":-6.54,"y":-0.88},{"x":-6.06,"y":-1.02},{"x":-5.74,"y":-1.0},{"x":-5.74,"y":-0.6},
{"x":-5.5,"y":-1.7},{"x":-5.35,"y":-1.45},{"x":-5.3,"y":-1.05},{"x":-5.2,"y":-1.85},{"x":-5.1,"y":-1.3},{"x":-5.0,"y":-1.62},{"x":-4.95,"y":-0.95},{"x":-4.85,"y":-1.38},{"x":-4.8,"y":-2.05},{"x":-4.72,"y":-1.15},{"x":-4.65,"y":-1.72},{"x":-4.6,"y":-0.55},{"x":-4.55,"y":-1.25},{"x":-4.45,"y":-1.55},{"x":-4.4,"y":-0.98},{"x":-4.32,"y":-1.85},{"x":-4.25,"y":-1.4},{"x":-4.2,"y":-0.72},{"x":-4.12,"y":-1.15},{"x":-4.05,"y":-1.62},{"x":-4.0,"y":-0.5},{"x":-3.95,"y":-1.3},{"x":-3.9,"y":-1.95},{"x":-3.82,"y":-1.05},{"x":-3.78,"y":-1.5},{"x":-3.7,"y":-0.85},{"x":-3.65,"y":-1.78},{"x":-3.6,"y":-1.22},{"x":-3.55,"y":-1.42},{"x":-3.48,"y":-2.1},{"x":-3.45,"y":-0.62},{"x":-3.4,"y":-1.6},{"x":-3.35,"y":-1.1},{"x":-3.3,"y":-1.35},{"x":-3.25,"y":-1.85},{"x":-3.2,"y":-0.95},{"x":-3.15,"y":-1.48},{"x":-3.1,"y":-2.0},{"x":-3.05,"y":-1.2},{"x":-3.0,"y":-0.7},{"x":-2.95,"y":-1.65},{"x":-2.9,"y":-1.38},{"x":-2.85,"y":-1.05},{"x":-2.8,"y":-1.9},{"x":-2.75,"y":-1.5},{"x":-2.7,"y":-2.38},{"x":-2.68,"y":-1.25},{"x":-2.6,"y":-0.55},{"x":-2.58,"y":-1.72},{"x":-2.5,"y":-1.4},{"x":-2.48,"y":-2.05},{"x":-2.42,"y":-1.15},{"x":-2.4,"y":-1.6},{"x":-2.35,"y":-0.85},{"x":-2.3,"y":-1.32},{"x":-2.25,"y":-1.8},{"x":-2.2,"y":-1.2},{"x":-2.15,"y":-1.55},{"x":-2.1,"y":-0.95},{"x":-2.05,"y":-2.1},{"x":-2.0,"y":-1.38},{"x":-1.95,"y":-1.7},{"x":-1.9,"y":-1.05},{"x":-1.85,"y":-2.2},{"x":-1.8,"y":-1.5},{"x":-1.75,"y":-0.75},{"x":-1.7,"y":-1.88},{"x":-1.65,"y":-1.28},{"x":-1.6,"y":-2.42},{"x":-1.55,"y":-1.62},{"x":-1.5,"y":-1.1},{"x":-1.45,"y":-2.0},{"x":-1.4,"y":-0.8},{"x":-1.35,"y":-1.45},{"x":-1.3,"y":-1.85},{"x":-1.25,"y":-1.2},{"x":-1.2,"y":-2.25},{"x":-1.15,"y":-1.02},{"x":-1.1,"y":-1.6},{"x":-1.05,"y":-0.55},{"x":-1.0,"y":-1.35},{"x":-0.95,"y":-1.95},{"x":-0.9,"y":-0.82},{"x":-0.88,"y":-1.55},{"x":-0.85,"y":-2.55},{"x":-0.8,"y":-1.15},{"x":-0.75,"y":-1.75},{"x":-0.72,"y":-0.98},{"x":-0.7,"y":-1.42},{"x":-0.65,"y":-2.1},{"x":-0.6,"y":-1.25},{"x":-0.55,"y":-0.7},{"x":-0.5,"y":-1.6},{"x":-0.45,"y":-1.35},{"x":-0.4,"y":-1.9},{"x":-0.35,"y":-1.05},
{"x":-3.6,"y":-1.35},{"x":-3.4,"y":-1.45},{"x":-3.2,"y":-1.3},{"x":-3.0,"y":-1.45},{"x":-2.8,"y":-1.25},{"x":-2.6,"y":-1.35},{"x":-2.4,"y":-1.25},{"x":-2.2,"y":-1.4},{"x":-2.0,"y":-1.2},{"x":-3.5,"y":-1.55},{"x":-2.9,"y":-1.55},{"x":-2.3,"y":-1.55},{"x":-2.5,"y":-1.2},{"x":-1.9,"y":-1.45},{"x":-3.3,"y":-1.6},{"x":-2.7,"y":-1.1},{"x":-4.9,"y":-0.55},{"x":-5.2,"y":-0.6},{"x":-4.3,"y":-0.45},{"x":-3.9,"y":-0.5},{"x":-3.3,"y":-0.58},{"x":-2.2,"y":-0.48},{"x":-0.92,"y":-0.46},{"x":-0.84,"y":-0.54},{"x":-0.68,"y":-0.9},{"x":-0.63,"y":-1.21},{"x":-0.79,"y":-2.55},{"x":-1.64,"y":-2.66},{"x":-3.44,"y":-3.37},{"x":-3.94,"y":-3.54},
{"x":-3.85,"y":-1.2},{"x":-3.7,"y":-1.45},{"x":-3.5,"y":-1.3},{"x":-3.35,"y":-1.55},{"x":-3.15,"y":-1.25},{"x":-3.05,"y":-1.6},{"x":-2.95,"y":-1.3},{"x":-2.85,"y":-1.45},{"x":-2.75,"y":-1.3},{"x":-2.65,"y":-1.6},{"x":-2.55,"y":-1.3},{"x":-2.45,"y":-1.45},{"x":-2.35,"y":-1.15},{"x":-2.25,"y":-1.35},{"x":-2.1,"y":-1.3},{"x":-1.95,"y":-1.25},{"x":-1.85,"y":-1.6},{"x":-2.55,"y":-1.85},{"x":-3.2,"y":-1.75},{"x":-2.1,"y":-1.75},{"x":-3.6,"y":-1.6},{"x":-2.85,"y":-1.7},{"x":-1.7,"y":-1.4},{"x":-4.1,"y":-1.3},{"x":-3.9,"y":-1.45},
{"x":0.62,"y":-0.3},{"x":0.55,"y":-0.52},{"x":0.72,"y":-0.48},{"x":0.45,"y":-0.65},{"x":0.6,"y":-0.72},{"x":0.8,"y":-0.68},{"x":0.5,"y":-0.88},{"x":0.68,"y":-0.85},{"x":0.85,"y":-0.92},{"x":0.42,"y":-1.0},{"x":0.58,"y":-1.02},{"x":0.75,"y":-1.05},{"x":0.92,"y":-1.08},{"x":0.48,"y":-1.15},{"x":0.65,"y":-1.18},{"x":0.82,"y":-1.2},{"x":0.38,"y":-1.28},{"x":0.55,"y":-1.3},{"x":0.72,"y":-1.32},{"x":0.88,"y":-1.35},{"x":0.45,"y":-1.42},{"x":0.62,"y":-1.45},{"x":0.78,"y":-1.48},{"x":0.95,"y":-1.5},{"x":0.4,"y":-1.55},{"x":0.52,"y":-1.58},{"x":0.68,"y":-1.6},{"x":0.85,"y":-1.62},{"x":0.48,"y":-1.7},{"x":0.62,"y":-1.72},{"x":0.75,"y":-1.75},{"x":0.92,"y":-1.78},{"x":0.42,"y":-1.85},{"x":0.58,"y":-1.88},{"x":0.72,"y":-1.9},{"x":0.88,"y":-1.92},{"x":0.5,"y":-2.0},{"x":0.65,"y":-2.02},{"x":0.8,"y":-2.05},{"x":0.45,"y":-2.12},{"x":0.6,"y":-2.15},{"x":0.75,"y":-2.18},{"x":0.9,"y":-2.2},{"x":0.55,"y":-2.3},{"x":0.7,"y":-2.32},{"x":0.85,"y":-2.35},{"x":0.62,"y":-2.45},{"x":0.78,"y":-2.5},{"x":0.68,"y":-2.62},{"x":0.72,"y":-2.78},{"x":0.65,"y":-2.85},{"x":0.8,"y":-2.7},
{"x":0.52,"y":-1.1},{"x":0.6,"y":-1.25},{"x":0.68,"y":-1.4},{"x":0.55,"y":-1.5},{"x":0.7,"y":-1.55},{"x":0.58,"y":-1.65},{"x":0.65,"y":-1.8},{"x":0.52,"y":-1.8},{"x":0.7,"y":-1.95},{"x":0.6,"y":-1.95},{"x":0.55,"y":-2.08},{"x":0.68,"y":-2.1},{"x":0.58,"y":-2.25},{"x":0.7,"y":-2.25},{"x":0.62,"y":-1.35},{"x":0.75,"y":-1.25},{"x":0.5,"y":-1.3},{"x":0.72,"y":-0.95},{"x":0.58,"y":-0.95},{"x":0.65,"y":-0.62},{"x":0.5,"y":-1.62},{"x":0.8,"y":-1.38},{"x":0.62,"y":-2.58},{"x":0.74,"y":-2.05},{"x":0.6,"y":-1.1},{"x":0.68,"y":-1.68},{"x":0.55,"y":-0.78},{"x":0.8,"y":-1.8},{"x":0.47,"y":-1.9},
{"x":0.55,"y":-0.9},{"x":0.62,"y":-1.05},{"x":0.7,"y":-1.15},{"x":0.58,"y":-1.2},{"x":0.66,"y":-1.3},{"x":0.52,"y":-1.4},{"x":0.72,"y":-1.45},{"x":0.6,"y":-1.55},{"x":0.66,"y":-1.65},{"x":0.54,"y":-1.72},{"x":0.74,"y":-1.7},{"x":0.62,"y":-1.85},{"x":0.68,"y":-1.98},{"x":0.56,"y":-2.0},{"x":0.64,"y":-2.15},{"x":0.72,"y":-2.12},{"x":0.6,"y":-2.32},{"x":0.66,"y":-2.4},{"x":0.76,"y":-2.4},{"x":0.58,"y":-2.5},{"x":0.7,"y":-2.5},{"x":0.64,"y":-2.7},{"x":0.58,"y":-1.35},{"x":0.78,"y":-1.58},{"x":0.5,"y":-1.95},
{"x":1.05,"y":-1.3},{"x":1.1,"y":-1.05},{"x":1.15,"y":-1.6},{"x":1.2,"y":-0.9},{"x":1.25,"y":-1.35},{"x":1.3,"y":-2.0},{"x":1.35,"y":-1.15},{"x":1.4,"y":-1.55},{"x":1.5,"y":-1.25},{"x":1.55,"y":-1.85},{"x":1.6,"y":-1.05},{"x":1.7,"y":-1.4},{"x":1.8,"y":-1.65},{"x":1.9,"y":-1.15},{"x":2.0,"y":-1.75},{"x":2.1,"y":-1.25},{"x":2.25,"y":-1.05},{"x":2.35,"y":-1.0},{"x":2.75,"y":-1.25},{"x":3.72,"y":-0.72},{"x":1.75,"y":-0.85},{"x":1.1,"y":-2.45},{"x":1.0,"y":-2.65},{"x":0.98,"y":-2.3},{"x":2.14,"y":-1.65},{"x":1.7,"y":-1.77}]},
  "mark": {"type": "circle", "color": "black", "opacity": 0.35, "size": 33}},
 {"data": {"values": [{"x":2.46,"y":-2.09,"x2":0.98,"y2":-2.62}]},
  "mark": {"type": "rule", "color": "black", "strokeWidth": 1.3},
  "encoding": {"x2": {"field": "x2"}, "y2": {"field": "y2"}}},
 {"data": {"values": [{"x":0.95,"y":-2.63}]},
  "mark": {"type": "point", "shape": "triangle-up", "filled": true, "color": "black", "opacity": 1, "size": 30, "angle": 234}},
 {"data": {"values": [
  {"x":1.29,"y":3.03,"label":"TGFBI"},{"x":-2.17,"y":2.82,"label":"GRASP"},{"x":-5.02,"y":2.28,"label":"ARNT2"},{"x":-6.95,"y":2.13,"label":"PLA2G4F"},{"x":0.08,"y":2.13,"label":"TBC1D2B"},{"x":-8.76,"y":1.62,"label":"ZNF385B"},{"x":1.66,"y":1.3,"label":"TMEM1"},{"x":2.68,"y":0.48,"label":"RP11-527N22.1"},{"x":3.02,"y":-0.48,"label":"CCL24"},{"x":3.22,"y":-1.04,"label":"FAIM2"},{"x":-9.34,"y":-0.9,"label":"HAGLR"},{"x":-8.2,"y":-1.79,"label":"SAMD5"},{"x":-5.18,"y":-1.83,"label":"LIMCH1"},{"x":-3.09,"y":-2.15,"label":"WNT7B"},{"x":2.3,"y":-1.67,"label":"TNF"},{"x":3.18,"y":-2.09,"label":"MAP4K1"},{"x":0.93,"y":-2.39,"label":"RPS6KA1"},{"x":-1.13,"y":-2.92,"label":"NFIX"},{"x":0.45,"y":-3.1,"label":"RGS12"},{"x":-2.93,"y":-3.13,"label":"FGF18"},{"x":-4.86,"y":-3.66,"label":"TACC2"}]},
  "mark": {"type": "text", "fontSize": 9, "color": "#333333", "align": "center", "baseline": "middle"},
  "encoding": {"text": {"field": "label"}}}
]
}
]
}
